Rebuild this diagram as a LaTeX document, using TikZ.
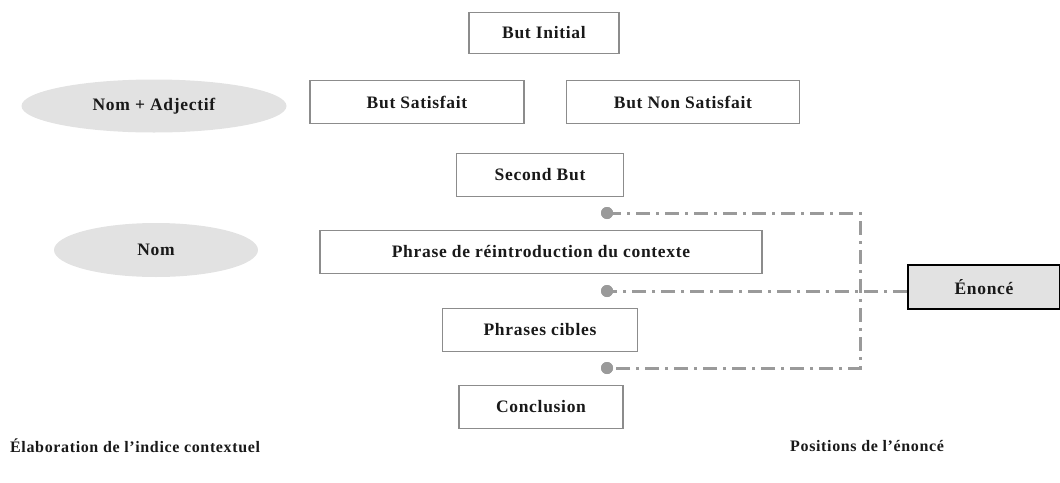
\documentclass[tikz,border=0pt]{standalone}
\usepackage{fontspec}
\setmainfont{Liberation Serif}[LetterSpace=4]
\usetikzlibrary{shapes.geometric}
\definecolor{boxgray}{HTML}{8C8C8C}
\definecolor{ellgray}{HTML}{E2E2E2}
\definecolor{linegray}{HTML}{9A9A9A}
\tikzset{
  every node/.style={font=\bfseries\fontsize{17.5}{20}\selectfont, text=black!90},
  stepbox/.style={draw=boxgray, line width=1.6pt, rectangle, inner sep=0pt},
  ellbox/.style={ellipse, fill=ellgray, draw=none, inner sep=0pt},
  keybox/.style={draw=black, line width=1.6pt, fill=ellgray, rectangle, inner sep=0pt},
  anchordot/.style={circle, fill=linegray, draw=none, minimum size=12pt, inner sep=0pt},
  link/.style={draw=linegray, line width=3pt, dash pattern=on 14pt off 6pt on 3pt off 6pt},
  caption/.style={anchor=west, inner sep=0pt, font=\bfseries\fontsize{16}{18}\selectfont}
}
\begin{document}
\begin{tikzpicture}[x=1pt, y=-1pt]
\useasboundingbox (0,0) rectangle (1060,482);
\node[stepbox, minimum width=150pt, minimum height=41pt] (init) at (544,33) {But Initial};
\node[ellbox, minimum width=265pt, minimum height=53pt] (nomadj) at (154,106) {Nom + Adjectif};
\node[stepbox, minimum width=214pt, minimum height=43pt] (sat) at (417,102) {But Satisfait};
\node[stepbox, minimum width=233pt, minimum height=43pt] (nonsat) at (683,102) {But Non Satisfait};
\node[stepbox, minimum width=167pt, minimum height=43pt] (second) at (540,175) {Second But};
\node[ellbox, minimum width=204pt, minimum height=54pt] (nom) at (156,250) {Nom};
\node[stepbox, minimum width=442pt, minimum height=43pt] (reintro) at (541,252) {Phrase de réintroduction du contexte};
\node[stepbox, minimum width=195pt, minimum height=43pt] (cibles) at (540,330) {Phrases cibles};
\node[stepbox, minimum width=164pt, minimum height=43pt] (concl) at (541,407) {Conclusion};
\node[keybox, minimum width=152pt, minimum height=44pt] (enonce) at (984,287) {Énoncé};
\node[anchordot] (d1) at (607,213) {};
\node[anchordot] (d2) at (607,291) {};
\node[anchordot] (d3) at (607,368) {};
\coordinate (c1) at (860,213);
\coordinate (c3) at (860,368);
\draw[link] (d1.center) -- (c1) -- (c3) -- (d3.center);
\draw[link] (d2.center -| enonce.west) -- (d2.center);
\node[anchordot] at (d1) {};
\node[anchordot] at (d2) {};
\node[anchordot] at (d3) {};
\node[caption] (lab1) at (10,446) {Élaboration de l'indice contextuel};
\node[caption] (lab2) at (790,446) {Positions de l'énoncé};
\end{tikzpicture}
\end{document}
